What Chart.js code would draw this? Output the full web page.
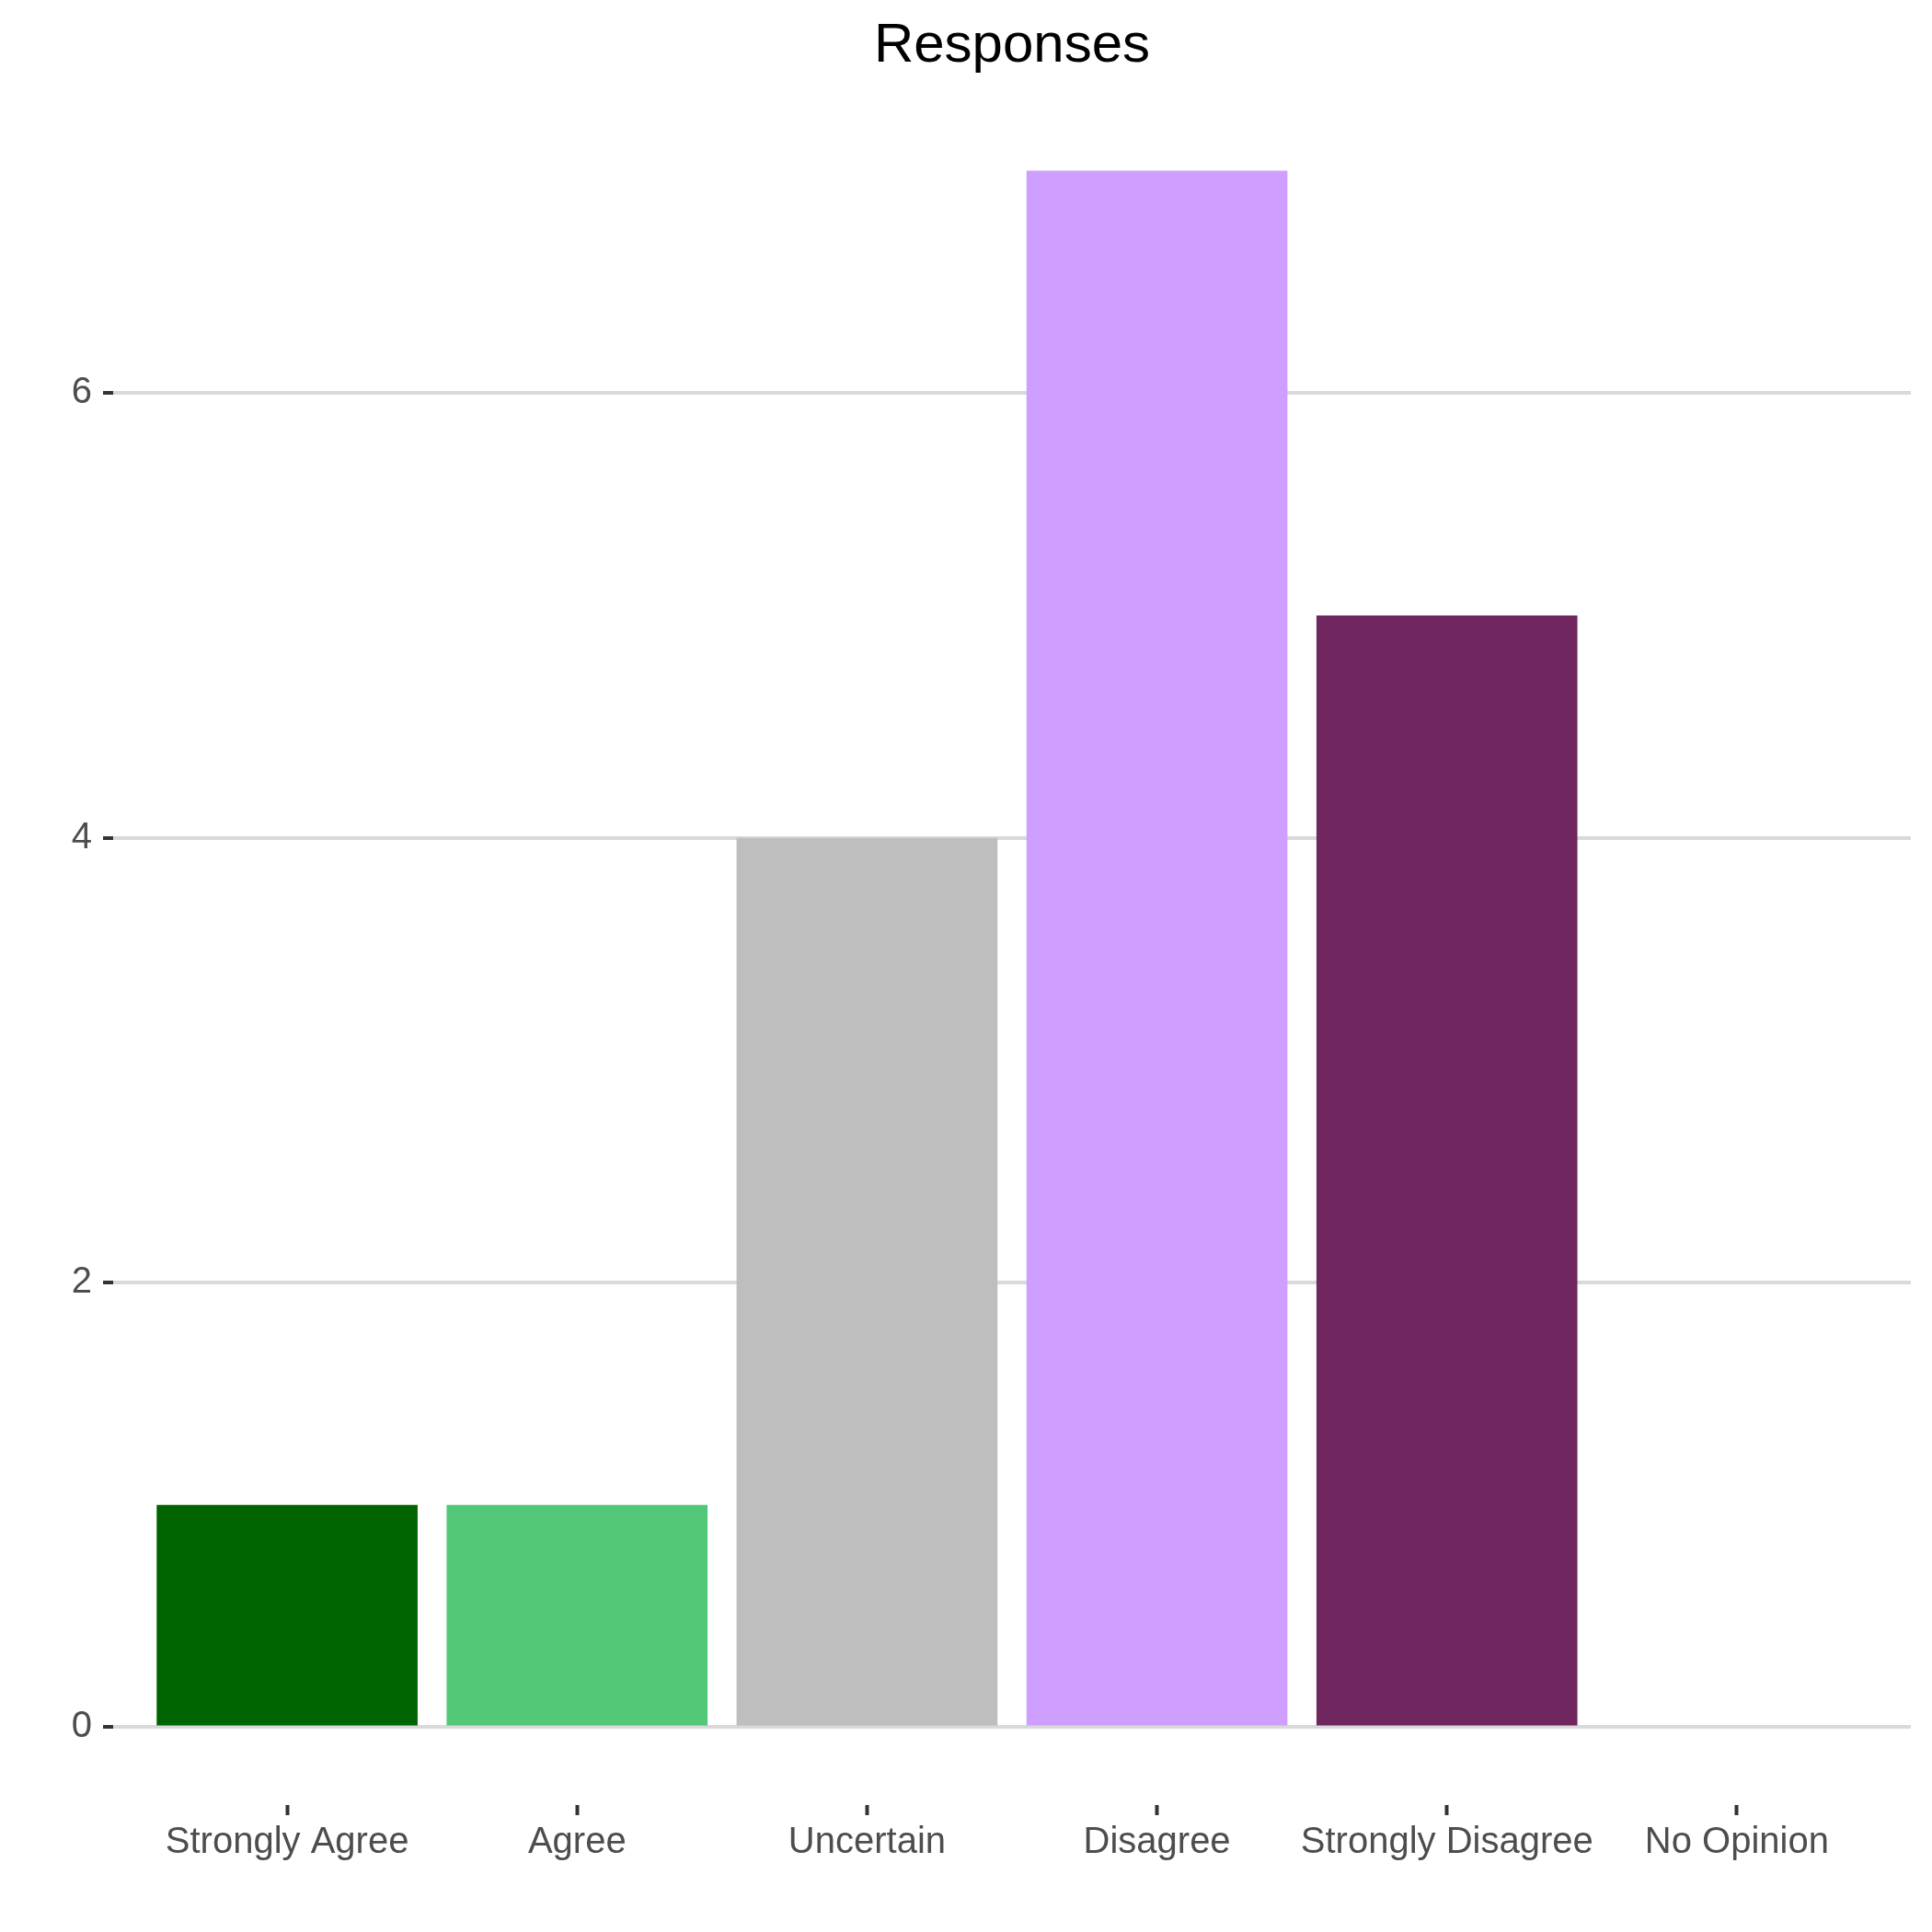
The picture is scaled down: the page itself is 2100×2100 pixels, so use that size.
<!DOCTYPE html>
<html>
<head>
<meta charset="utf-8">
<script src="https://cdn.jsdelivr.net/npm/chart.js@4/dist/chart.umd.min.js"></script>
<style>
  body { margin: 0; background: #fff; }
  canvas { display: block; }
</style>
</head>
<body>
<canvas id="myChart" width="2100" height="2100"></canvas>
<script>
// data
var categories = ["Strongly Agree", "Agree", "Uncertain", "Disagree", "Strongly Disagree", "No Opinion"];
var counts = [1, 1, 4, 7, 5, 0];
var barColors = ["#006400", "#52c878", "#bebebe", "#cf9fff", "#70265f", "#888888"];
var yTicks = [0, 2, 4, 6];

var points = categories.map(function (c, i) { return { x: i, y: counts[i] }; });

Chart.defaults.font.family = "'Liberation Sans', Arial, sans-serif";

var ctx = document.getElementById('myChart').getContext('2d');
var chart = new Chart(ctx, {
    type: 'bar',
    data: {
        datasets: [{
            data: points,
            backgroundColor: barColors,
            borderWidth: 0,
            categoryPercentage: 1,
            barPercentage: 0.9
        }]
    },
    options: {
        responsive: false,
        animation: false,
        layout: { padding: { left: 0, right: 23, top: 0, bottom: 0 } },
        plugins: {
            legend: { display: false },
            tooltip: { enabled: false },
            title: {
                display: true,
                fullSize: false,
                text: 'Responses',
                color: '#000',
                font: { size: 60, weight: 'normal' },
                padding: { top: 14, bottom: 15 }
            }
        },
        scales: {
            x: {
                type: 'linear',
                min: -0.6,
                max: 5.6,
                offset: false,
                afterBuildTicks: function (axis) {
                    axis.ticks = categories.map(function (c, i) { return { value: i }; });
                },
                afterFit: function (axis) { axis.height = 138; },
                border: { display: false },
                grid: {
                    offset: false,
                    color: 'rgba(0,0,0,0)',
                    tickColor: '#333333',
                    tickWidth: 4,
                    tickLength: 11
                },
                ticks: {
                    color: '#4d4d4d',
                    font: { size: 40 },
                    padding: 6,
                    maxRotation: 0,
                    autoSkip: false,
                    callback: function (v) { return categories[v]; }
                }
            },
            y: {
                min: -0.35,
                max: 7.35,
                afterBuildTicks: function (axis) {
                    axis.ticks = yTicks.map(function (v) { return { value: v }; });
                },
                afterFit: function (axis) { axis.width = 123; },
                border: { display: false },
                grid: {
                    color: '#d9d9d9',
                    lineWidth: 4,
                    tickColor: '#333333',
                    tickWidth: 4,
                    tickLength: 11
                },
                ticks: {
                    color: '#4d4d4d',
                    font: { size: 40 },
                    padding: 12
                }
            }
        }
    }
});
</script>
</body>
</html>
